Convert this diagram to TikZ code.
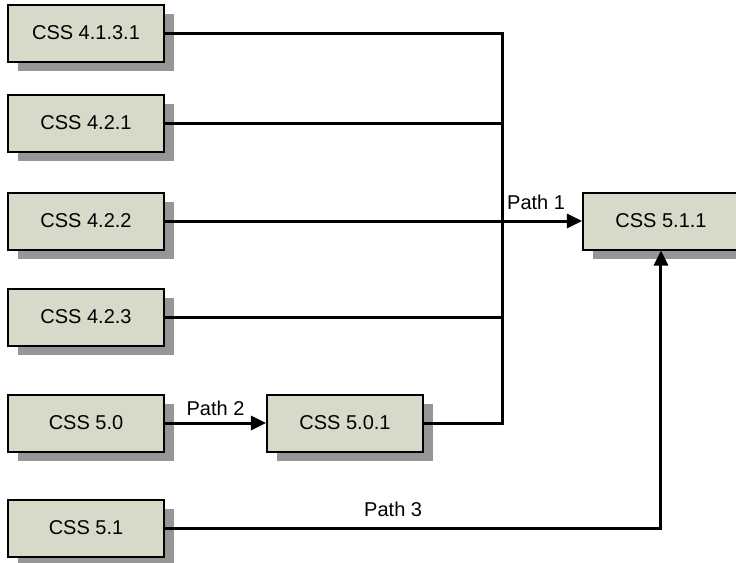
\documentclass[tikz,border=0pt]{standalone}
\usepackage{fontspec}
\setmainfont{Liberation Sans}
\usepackage{tikz}
\usetikzlibrary{arrows.meta,shadows}
\definecolor{boxfill}{RGB}{216,217,200}
\definecolor{shadowgray}{RGB}{150,150,150}

\begin{document}
\begin{tikzpicture}[x=0.5pt, y=-0.5pt,
    cssbox/.style={draw, line width=1pt, fill=boxfill, minimum width=78pt, minimum height=28.5pt,
      inner sep=0pt, font=\fontsize{10}{12}\selectfont,
      drop shadow={shadow xshift=5pt, shadow yshift=-4.5pt, fill=shadowgray, opacity=1}},
    conn/.style={line width=1.5pt},
    pathlabel/.style={font=\fontsize{10}{12}\selectfont, inner sep=2pt},
    every path/.style={-{Triangle[length=7.5pt,width=7pt]}}]
      \useasboundingbox (0, 0) rectangle (736, 563);

      \node[cssbox] (c4131) at (86, 33) {CSS 4.1.3.1};
      \node[cssbox] (c421) at (86, 123) {CSS 4.2.1};
      \node[cssbox] (c422) at (86, 221) {CSS 4.2.2};
      \node[cssbox] (c423) at (86, 317) {CSS 4.2.3};
      \node[cssbox] (c50) at (86, 423) {CSS 5.0};
      \node[cssbox] (c51) at (86, 528) {CSS 5.1};
      \node[cssbox] (c501) at (345, 423) {CSS 5.0.1};
      \node[cssbox] (c511) at (661, 221) {CSS 5.1.1};

      \coordinate (trunk) at (503, 423);

      % joined lines
      \draw[conn, -] (c4131.east) -| (trunk) -- (c501.east);
      \draw[conn, -] (c421.east) -- (c421.east -| trunk);
      \draw[conn, -] (c423.east) -- (c423.east -| trunk);

      % arrows
      \draw[conn] (c422.east) -- (c511.west) node[pathlabel, pos=0.89, above, yshift=3pt] {Path 1};
      \draw[conn] (c50.east) -- (c501.west) node[pathlabel, midway, above, yshift=1pt] {Path 2};
      \draw[conn] (c51.east) -| (c511.south) node[pathlabel, pos=0.23, above, yshift=3pt] {Path 3};
\end{tikzpicture}
\end{document}
